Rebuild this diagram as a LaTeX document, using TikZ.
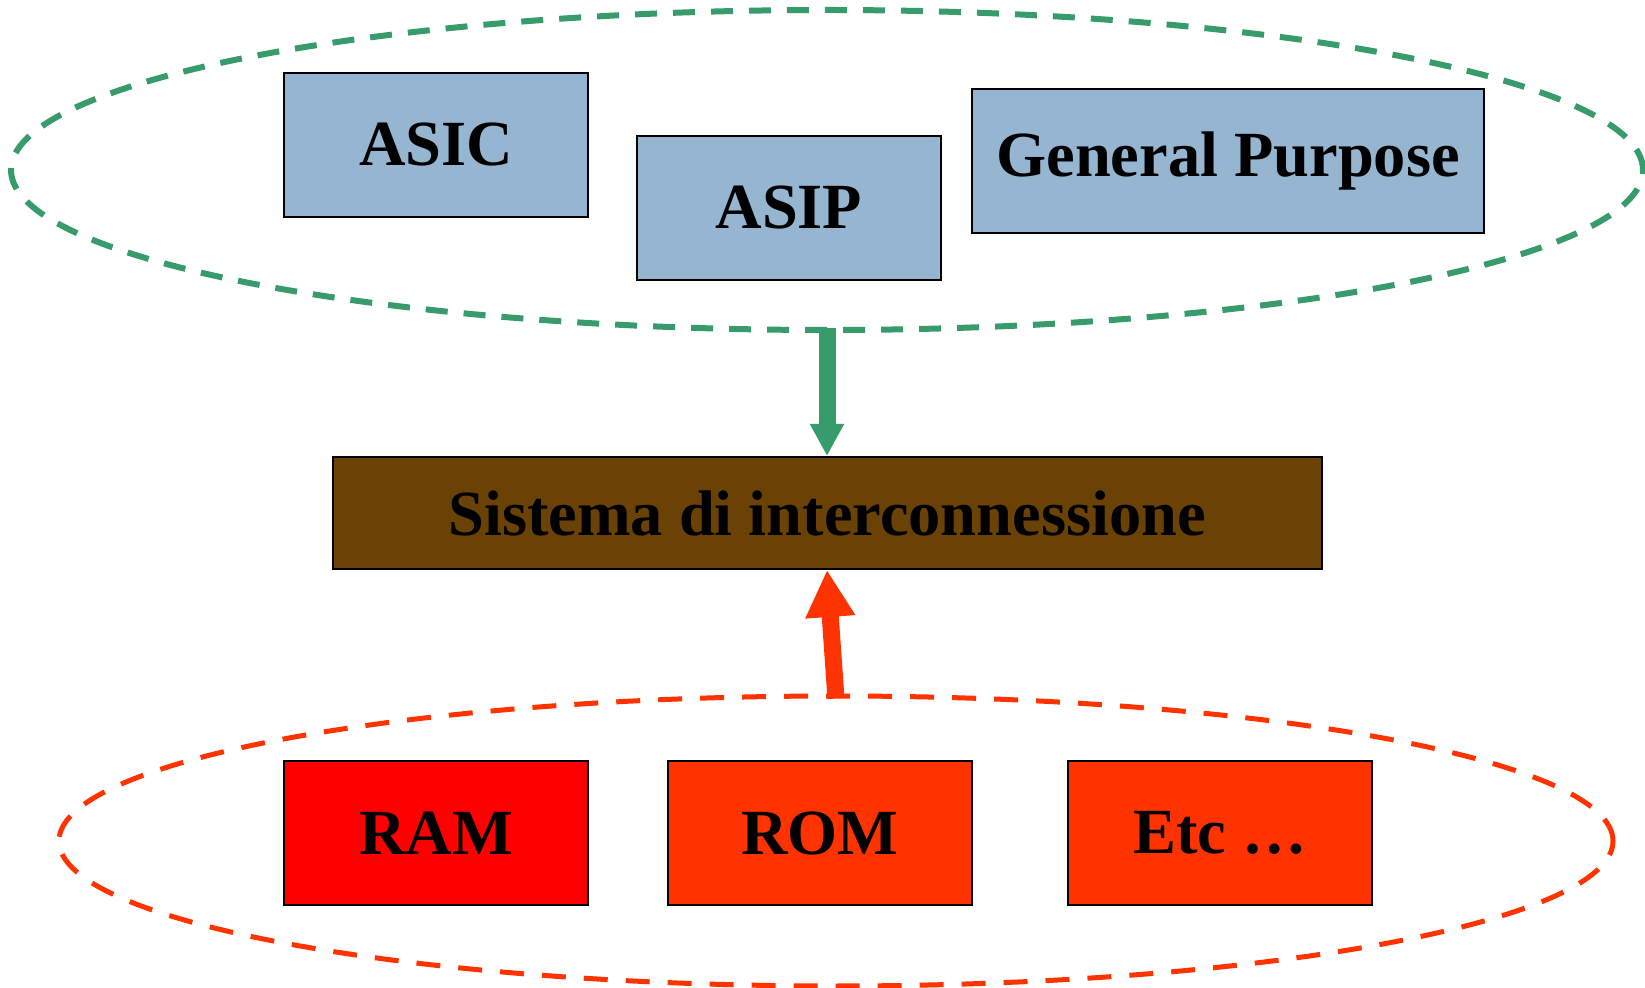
\documentclass[tikz,border=0pt]{standalone}
\usepackage{fontspec}
\setmainfont{Liberation Serif}
\usepackage{tikz}
\usetikzlibrary{shapes.geometric,arrows.meta}

\definecolor{grn}{RGB}{55,155,108}
\definecolor{lblue}{RGB}{149,181,209}
\definecolor{brwn}{RGB}{107,66,5}
\definecolor{ramred}{RGB}{255,0,0}
\definecolor{orred}{RGB}{255,51,0}

\tikzset{
  blk/.style={draw=black, line width=1pt, minimum width=152pt, minimum height=72pt,
    inner sep=0pt, font=\fontsize{32.2}{36}\selectfont\bfseries},
  grp/.style={ellipse, dashed, line width=3pt, inner sep=0pt, dash pattern=on 11pt off 8pt},
}

\begin{document}
\begin{tikzpicture}[x=0.5pt,y=-0.5pt]
	\useasboundingbox (0,0) rectangle (1645,988);

	% processori
	\node[grp, draw=grn, minimum width=816pt, minimum height=160pt] (proc) at (827,170) {};
	\node[blk, fill=lblue] (asic) at (436,145) {ASIC};
	\node[blk, fill=lblue] (asip) at (789,208) {ASIP};
	\node[blk, fill=lblue, minimum width=256pt] (gp) at (1228,161) {General Purpose};

	\node[blk, fill=brwn, minimum width=494.5pt, minimum height=56pt] (sis) at (827,513) {Sistema di interconnessione};

	% memorie
	\node[grp, draw=orred, line width=2.5pt, dash pattern=on 12pt off 9pt,
	      minimum width=777pt, minimum height=145pt] (mem) at (836,841) {};
	\foreach \n/\x/\c/\t in {ram/436/ramred/RAM, rom/820/orred/ROM, etc/1220/orred/Etc \dots}{
	  \node[blk, fill=\c] (\n) at (\x,833) {\t};
	}

	\draw[-{Triangle[length=16pt,width=16pt]}, grn, line width=8.5pt] ([yshift=2.5pt]proc.south) -- (sis.north);
	\draw[-{Triangle[length=23.5pt,width=23.5pt]}, orred, line width=8.5pt] ([yshift=-2.5pt]mem.north) -- (sis.south);
\end{tikzpicture}
\end{document}
